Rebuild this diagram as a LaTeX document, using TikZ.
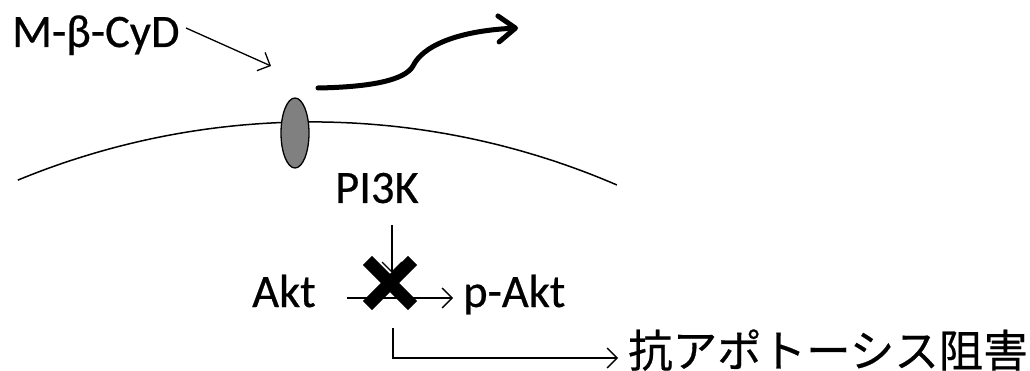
\documentclass[tikz,border=0pt]{standalone}
\usepackage{fontspec}
\setmainfont{Carlito}[FakeBold=0.45]
\newfontfamily\cjk{Noto Sans CJK JP}[FakeBold=0.45]
\usetikzlibrary{arrows.meta,shapes.geometric,calc}
\begin{document}
\begin{tikzpicture}[x=1pt,y=-1pt,
  lbl/.style={inner sep=0pt,anchor=base west,font=\fontsize{46.5}{52}\selectfont},
  thinarrow/.style={line width=1.3pt,-{Straight Barb[length=10pt,width=20pt,line width=1.3pt]}},
  thickarrow/.style={line width=5pt,line cap=round,-{Straight Barb[round,length=17pt,width=26pt,line width=5pt]}},
  crossbar/.style={line width=13pt,line cap=butt},
]
\useasboundingbox (0,0) rectangle (1030,371);
% membrane
\draw[line width=1.5pt] plot[domain=-112.4:-66.67,samples=80] ({311.6+770.9*cos(\x)},{892.8+770.9*sin(\x)});
% channel
\node[draw,line width=1.3pt,fill=gray,ellipse,inner sep=0pt,minimum width=28pt,minimum height=70pt] (chan) at (295,133) {};
% labels
\node[lbl] (mbcd) at (12,47) {M-β-CyD};
\node[lbl] (pi3k) at (335,203) {PI3K};
\node[lbl] (akt) at (252,307) {Akt};
\node[lbl] (pakt) at (463,307) {p-Akt};
\node[inner sep=0pt,anchor=west,font=\cjk\fontsize{44.5}{50}\selectfont] (anti) at (628,350) {抗アポトーシス阻害};
% connector points
\coordinate (mstart) at (186,28);
\coordinate (mtip) at (271,66);
\coordinate (pstart) at (392,225);
\coordinate (ptip) at (392,273);
\coordinate (astart) at (347,298);
\coordinate (atip) at (453,298);
\coordinate (estart) at (393,328);
\coordinate (etip) at (618,358);
\coordinate (xc) at (390,283);
\coordinate (wstart) at (318,88);
\coordinate (wtip) at (518,28);
% arrows
\draw[thinarrow] (mstart) -- (mtip);
\draw[thickarrow] (wstart) .. controls (372,87) and (405,80) .. (413,66)
  .. controls (422,47) and (455,31) .. (wtip);
\draw[thinarrow] (pstart) -- (ptip);
\draw[thinarrow] (astart) -- (atip);
\draw[thinarrow] (estart) |- (etip);
% cross
\draw[crossbar] ($(xc)+(-22.6,-22.6)$) -- ($(xc)+(22.6,22.6)$);
\draw[crossbar] ($(xc)+(22.6,-22.6)$) -- ($(xc)+(-22.6,22.6)$);
\end{tikzpicture}
\end{document}
